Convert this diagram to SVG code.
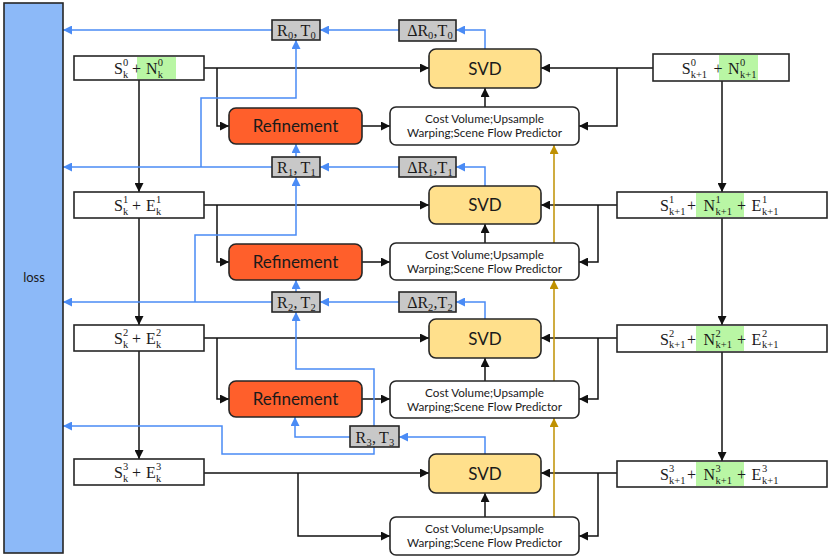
<svg xmlns="http://www.w3.org/2000/svg" width="830" height="559" viewBox="0 0 830 559">
<defs>
<marker id="ak" viewBox="0 0 10 10" refX="10" refY="5" markerWidth="9" markerHeight="9" markerUnits="userSpaceOnUse" orient="auto"><path d="M0,0 L10,5 L0,10 z" fill="#111"/></marker>
<marker id="ab" viewBox="0 0 10 10" refX="10" refY="5" markerWidth="9" markerHeight="9" markerUnits="userSpaceOnUse" orient="auto"><path d="M0,0 L10,5 L0,10 z" fill="#4a8bf5"/></marker>
<marker id="ag" viewBox="0 0 10 10" refX="10" refY="5" markerWidth="9" markerHeight="9" markerUnits="userSpaceOnUse" orient="auto"><path d="M0,0 L10,5 L0,10 z" fill="#bf9000"/></marker>
</defs>
<style>
.k{fill:none;stroke:#111;stroke-width:1.5;marker-end:url(#ak)}
.b{fill:none;stroke:#4a8bf5;stroke-width:1.5;marker-end:url(#ab)}
.g{fill:none;stroke:#bf9000;stroke-width:1.5;marker-end:url(#ag)}
.box{fill:#fff;stroke:#262626;stroke-width:1.6}
.gray{fill:#c8c8c8;stroke:#262626;stroke-width:1.6}
.svd{fill:#ffe08c;stroke:#262626;stroke-width:1.6}
.ref{fill:#ff5f2b;stroke:#262626;stroke-width:1.6}
.grn{fill:#b9f6a4}
.m{font-family:"Liberation Serif","DejaVu Serif",serif;font-size:16px;fill:#1a1a1a}
.s{font-size:10.5px}
.sa{font-family:Lato,"Liberation Sans",sans-serif;fill:#1a1a1a}
</style>
<g id="connectors">
<path class="k" d="M204,68 H429"/>
<path class="k" d="M217,68 V126 H229"/>
<path class="k" d="M362,126 H390"/>
<path class="k" d="M485,107 V88"/>
<path class="k" d="M653,68 H541"/>
<path class="k" d="M617,68 V126 H579"/>
<path class="k" d="M139,80 V192"/>
<path class="k" d="M722,81 V192"/>
<path class="k" d="M204,205 H429"/>
<path class="k" d="M217,205 V262 H229"/>
<path class="k" d="M362,262 H390"/>
<path class="k" d="M485,243 V224"/>
<path class="k" d="M617,205 H541"/>
<path class="k" d="M598,205 V262 H579"/>
<path class="k" d="M139,218 V325"/>
<path class="k" d="M722,218 V325"/>
<path class="k" d="M204,338 H429"/>
<path class="k" d="M217,338 V399 H229"/>
<path class="k" d="M362,399 H390"/>
<path class="k" d="M485,381 V358"/>
<path class="k" d="M617,338 H541"/>
<path class="k" d="M598,338 V399 H579"/>
<path class="k" d="M139,351 V459"/>
<path class="k" d="M722,352 V461"/>
<path class="k" d="M204,473 H429"/>
<path class="k" d="M298,473 V536 H390"/>
<path class="k" d="M485,517 V493"/>
<path class="k" d="M617,473 H541"/>
<path class="k" d="M598,473 V536 H579"/>
<path class="g" d="M554,243 V145"/>
<path class="g" d="M554,381 V280"/>
<path class="g" d="M554,517 V418"/>
<path class="b" d="M485,49 V30 H456"/>
<path class="b" d="M399,30 H320"/>
<path class="b" d="M272,30 H63"/>
<path class="b" d="M201,167 V98 H296 V40"/>
<path class="b" d="M485,186 V167 H456"/>
<path class="b" d="M399,167 H320"/>
<path class="b" d="M272,167 H63"/>
<path class="b" d="M296,157 V144"/>
<path class="b" d="M195,302 V235 H296 V177"/>
<path class="b" d="M485,319 V302 H456"/>
<path class="b" d="M399,302 H320"/>
<path class="b" d="M272,302 H63"/>
<path class="b" d="M296,292 V280"/>
<path class="b" d="M485,454 V437 H399"/>
<path class="b" d="M350,437 H295 V417"/>
<path class="b" d="M374,426 V369 H296 V312"/>
<path class="b" d="M374,447 V454 H222 V426 H63"/>
</g>
<g id="loss">
<rect x="4" y="3" width="59" height="550" fill="#8cb9f8" stroke="#262626" stroke-width="1.6"/>
<text class="sa" x="34" y="282" font-size="13" text-anchor="middle">loss</text>
</g>
<g id="left0">
<rect class="box" x="74" y="56" width="130" height="24"/>
<rect class="grn" x="137" y="57" width="39" height="22"/>
<text class="m"><tspan x="114" y="74">S</tspan><tspan class="s" x="123" y="66">0</tspan><tspan class="s" x="123" y="77.5">k</tspan><tspan x="132" y="74">+</tspan><tspan x="146" y="74">N</tspan><tspan class="s" x="157.7" y="66">0</tspan><tspan class="s" x="157.7" y="77.5">k</tspan></text>
</g>
<g id="left1">
<rect class="box" x="74" y="192" width="130" height="26"/>
<text class="m"><tspan x="114" y="211">S</tspan><tspan class="s" x="123" y="203">1</tspan><tspan class="s" x="123" y="214.5">k</tspan><tspan x="132" y="211">+</tspan><tspan x="146" y="211">E</tspan><tspan class="s" x="156" y="203">1</tspan><tspan class="s" x="156" y="214.5">k</tspan></text>
</g>
<g id="left2">
<rect class="box" x="74" y="325" width="130" height="26"/>
<text class="m"><tspan x="114" y="344">S</tspan><tspan class="s" x="123" y="336">2</tspan><tspan class="s" x="123" y="347.5">k</tspan><tspan x="132" y="344">+</tspan><tspan x="146" y="344">E</tspan><tspan class="s" x="156" y="336">2</tspan><tspan class="s" x="156" y="347.5">k</tspan></text>
</g>
<g id="left3">
<rect class="box" x="74" y="459" width="130" height="26"/>
<text class="m"><tspan x="114" y="478">S</tspan><tspan class="s" x="123" y="470">3</tspan><tspan class="s" x="123" y="481.5">k</tspan><tspan x="132" y="478">+</tspan><tspan x="146" y="478">E</tspan><tspan class="s" x="156" y="470">3</tspan><tspan class="s" x="156" y="481.5">k</tspan></text>
</g>
<g id="right0">
<rect class="box" x="653" y="54" width="136" height="27"/>
<rect class="grn" x="719" y="55" width="39" height="25"/>
<text class="m"><tspan x="681.7" y="74">S</tspan><tspan class="s" x="690.7" y="66">0</tspan><tspan class="s" x="690.7" y="77.5">k+1</tspan><tspan x="713.5" y="74">+</tspan><tspan x="728" y="74">N</tspan><tspan class="s" x="740" y="66">0</tspan><tspan class="s" x="740" y="77.5">k+1</tspan></text>
</g>
<g id="right1">
<rect class="box" x="617" y="192" width="210" height="26"/>
<rect class="grn" x="696" y="193" width="48" height="24"/>
<text class="m"><tspan x="660" y="211">S</tspan><tspan class="s" x="669" y="203">1</tspan><tspan class="s" x="669" y="214.5">k+1</tspan><tspan x="687" y="211">+</tspan><tspan x="703.5" y="211">N</tspan><tspan class="s" x="715.5" y="203">1</tspan><tspan class="s" x="715.5" y="214.5">k+1</tspan><tspan x="737" y="211">+</tspan><tspan x="751.5" y="211">E</tspan><tspan class="s" x="762" y="203">1</tspan><tspan class="s" x="762" y="214.5">k+1</tspan></text>
</g>
<g id="right2">
<rect class="box" x="617" y="325" width="210" height="27"/>
<rect class="grn" x="696" y="326" width="48" height="25"/>
<text class="m"><tspan x="660" y="344.5">S</tspan><tspan class="s" x="669" y="336.5">2</tspan><tspan class="s" x="669" y="348">k+1</tspan><tspan x="687" y="344.5">+</tspan><tspan x="703.5" y="344.5">N</tspan><tspan class="s" x="715.5" y="336.5">2</tspan><tspan class="s" x="715.5" y="348">k+1</tspan><tspan x="737" y="344.5">+</tspan><tspan x="751.5" y="344.5">E</tspan><tspan class="s" x="762" y="336.5">2</tspan><tspan class="s" x="762" y="348">k+1</tspan></text>
</g>
<g id="right3">
<rect class="box" x="617" y="461" width="210" height="26"/>
<rect class="grn" x="696" y="462" width="48" height="24"/>
<text class="m"><tspan x="660" y="480">S</tspan><tspan class="s" x="669" y="472">3</tspan><tspan class="s" x="669" y="483.5">k+1</tspan><tspan x="687" y="480">+</tspan><tspan x="703.5" y="480">N</tspan><tspan class="s" x="715.5" y="472">3</tspan><tspan class="s" x="715.5" y="483.5">k+1</tspan><tspan x="737" y="480">+</tspan><tspan x="751.5" y="480">E</tspan><tspan class="s" x="762" y="472">3</tspan><tspan class="s" x="762" y="483.5">k+1</tspan></text>
</g>
<g id="svd0"><rect class="svd" x="429" y="49" width="112" height="39" rx="7"/><text class="sa" x="485" y="74.5" font-size="17" text-anchor="middle">SVD</text></g>
<g id="svd1"><rect class="svd" x="429" y="186" width="112" height="38" rx="7"/><text class="sa" x="485" y="211" font-size="17" text-anchor="middle">SVD</text></g>
<g id="svd2"><rect class="svd" x="429" y="319" width="112" height="39" rx="7"/><text class="sa" x="485" y="344.5" font-size="17" text-anchor="middle">SVD</text></g>
<g id="svd3"><rect class="svd" x="429" y="454" width="112" height="39" rx="7"/><text class="sa" x="485" y="479.5" font-size="17" text-anchor="middle">SVD</text></g>
<g id="ref0"><rect class="ref" x="229" y="108" width="133" height="36" rx="7"/><text class="sa" x="295.5" y="132" font-size="17" text-anchor="middle">Refinement</text></g>
<g id="ref1"><rect class="ref" x="229" y="244" width="133" height="36" rx="7"/><text class="sa" x="295.5" y="268" font-size="17" text-anchor="middle">Refinement</text></g>
<g id="ref2"><rect class="ref" x="229" y="381" width="133" height="36" rx="7"/><text class="sa" x="295.5" y="405" font-size="17" text-anchor="middle">Refinement</text></g>
<g id="cv0"><rect class="box" x="390" y="107" width="189" height="38" rx="6"/><text class="sa" x="484.5" font-size="11.7" text-anchor="middle"><tspan x="484.5" y="123">Cost Volume;Upsample</tspan><tspan x="484.5" y="137">Warping;Scene Flow Predictor</tspan></text></g>
<g id="cv1"><rect class="box" x="390" y="243" width="189" height="37" rx="6"/><text class="sa" x="484.5" font-size="11.7" text-anchor="middle"><tspan x="484.5" y="258.5">Cost Volume;Upsample</tspan><tspan x="484.5" y="272.5">Warping;Scene Flow Predictor</tspan></text></g>
<g id="cv2"><rect class="box" x="390" y="381" width="189" height="37" rx="6"/><text class="sa" x="484.5" font-size="11.7" text-anchor="middle"><tspan x="484.5" y="396.5">Cost Volume;Upsample</tspan><tspan x="484.5" y="410.5">Warping;Scene Flow Predictor</tspan></text></g>
<g id="cv3"><rect class="box" x="390" y="517" width="189" height="38" rx="6"/><text class="sa" x="484.5" font-size="11.7" text-anchor="middle"><tspan x="484.5" y="533">Cost Volume;Upsample</tspan><tspan x="484.5" y="547">Warping;Scene Flow Predictor</tspan></text></g>
<g id="rt0"><rect class="gray" x="272" y="20" width="48" height="20"/><text class="m"><tspan x="277" y="36">R</tspan><tspan class="s" x="288" y="39">0</tspan><tspan x="293.5" y="36">,</tspan><tspan x="300.5" y="36">T</tspan><tspan class="s" x="310.5" y="39">0</tspan></text></g>
<g id="drt0"><rect class="gray" x="399" y="20" width="57" height="21"/><text class="m"><tspan x="407.3" y="36">ΔR</tspan><tspan class="s" x="428" y="39">0</tspan><tspan x="433.5" y="36">,</tspan><tspan x="437.5" y="36">T</tspan><tspan class="s" x="447.5" y="39">0</tspan></text></g>
<g id="rt1"><rect class="gray" x="272" y="157" width="48" height="20"/><text class="m"><tspan x="277" y="173">R</tspan><tspan class="s" x="288" y="176">1</tspan><tspan x="293.5" y="173">,</tspan><tspan x="300.5" y="173">T</tspan><tspan class="s" x="310.5" y="176">1</tspan></text></g>
<g id="drt1"><rect class="gray" x="399" y="157" width="57" height="20"/><text class="m"><tspan x="407.3" y="173">ΔR</tspan><tspan class="s" x="428" y="176">1</tspan><tspan x="433.5" y="173">,</tspan><tspan x="437.5" y="173">T</tspan><tspan class="s" x="447.5" y="176">1</tspan></text></g>
<g id="rt2"><rect class="gray" x="272" y="292" width="48" height="20"/><text class="m"><tspan x="277" y="308">R</tspan><tspan class="s" x="288" y="311">2</tspan><tspan x="293.5" y="308">,</tspan><tspan x="300.5" y="308">T</tspan><tspan class="s" x="310.5" y="311">2</tspan></text></g>
<g id="drt2"><rect class="gray" x="399" y="292" width="57" height="20"/><text class="m"><tspan x="407.3" y="308">ΔR</tspan><tspan class="s" x="428" y="311">2</tspan><tspan x="433.5" y="308">,</tspan><tspan x="437.5" y="308">T</tspan><tspan class="s" x="447.5" y="311">2</tspan></text></g>
<g id="rt3"><rect class="gray" x="350" y="426" width="49" height="21"/><text class="m"><tspan x="355.5" y="442.5">R</tspan><tspan class="s" x="366.5" y="445.5">3</tspan><tspan x="372" y="442.5">,</tspan><tspan x="379" y="442.5">T</tspan><tspan class="s" x="389" y="445.5">3</tspan></text></g>
</svg>
